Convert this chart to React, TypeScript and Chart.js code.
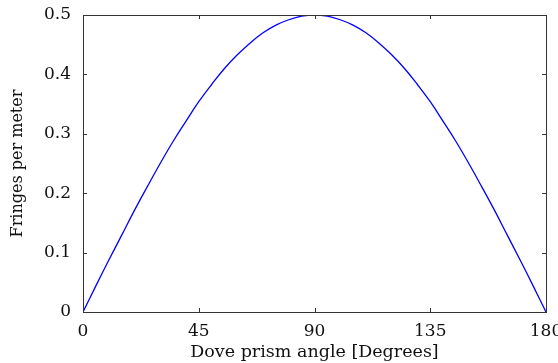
import React, { useEffect, useRef } from "react";
import { Chart, registerables } from "chart.js";

Chart.register(...registerables);

const angles = [0, 5, 10, 15, 20, 25, 30, 35, 40, 45, 50, 55, 60, 65, 70, 75, 80, 85, 90,
  95, 100, 105, 110, 115, 120, 125, 130, 135, 140, 145, 150, 155, 160, 165, 170, 175, 180];
const fringes = [0, 0.044, 0.087, 0.129, 0.171, 0.211, 0.25, 0.287, 0.321, 0.354, 0.383, 0.41, 0.433, 0.453, 0.47, 0.483, 0.492, 0.498, 0.5,
  0.498, 0.492, 0.483, 0.47, 0.453, 0.433, 0.41, 0.383, 0.354, 0.321, 0.287, 0.25, 0.211, 0.171, 0.129, 0.087, 0.044, 0];
const xTicks = [0, 45, 90, 135, 180];
const yTicks = [0, 0.1, 0.2, 0.3, 0.4, 0.5];

const FONT = "'DejaVu Serif', 'Liberation Serif', serif";

const frame = {
  id: "frame",
  afterDatasetsDraw(chart: any) {
    const { ctx, chartArea: a, scales } = chart;
    ctx.save();
    ctx.strokeStyle = "#333";
    ctx.lineWidth = 1;
    ctx.strokeRect(a.left + 0.5, a.top + 0.5, a.right - a.left, a.bottom - a.top);
    const L = 4;
    ctx.beginPath();
    xTicks.forEach((v) => {
      const x = Math.round(scales.x.getPixelForValue(v)) + 0.5;
      ctx.moveTo(x, a.bottom); ctx.lineTo(x, a.bottom - L);
      ctx.moveTo(x, a.top); ctx.lineTo(x, a.top + L);
    });
    yTicks.forEach((v) => {
      const y = Math.round(scales.y.getPixelForValue(v)) + 0.5;
      ctx.moveTo(a.left, y); ctx.lineTo(a.left + L, y);
      ctx.moveTo(a.right, y); ctx.lineTo(a.right - L, y);
    });
    ctx.stroke();
    ctx.restore();
  },
};

export default function App() {
  const ref = useRef<HTMLCanvasElement>(null);
  useEffect(() => {
    const chart = new Chart(ref.current!, {
      type: "line",
      data: {
        datasets: [{
          data: angles.map((x, i) => ({ x, y: fringes[i] })),
          borderColor: "#0000ff",
          borderWidth: 1.3,
          pointRadius: 0,
          tension: 0.4,
          fill: false,
        }],
      },
      options: {
        animation: false,
        responsive: false,
        plugins: { legend: { display: false }, tooltip: { enabled: false } },
        layout: { padding: { top: 15, right: 12, left: 8, bottom: 0 } },
        scales: {
          x: {
            type: "linear", min: 0, max: 180,
            afterBuildTicks: (s: any) => { s.ticks = xTicks.map((v) => ({ value: v })); },
            afterFit: (s: any) => { s.paddingLeft = 0; s.paddingRight = 0; s.height = 51; },
            grid: { display: false, drawTicks: false },
            border: { display: false },
            ticks: { color: "#111", font: { family: FONT, size: 17 }, padding: 9, maxRotation: 0, autoSkip: false },
            title: { display: true, text: "Dove prism angle [Degrees]", color: "#111", font: { family: FONT, size: 17.5 }, padding: { top: 0, bottom: 0 } },
          },
          y: {
            type: "linear", min: 0, max: 0.5,
            afterBuildTicks: (s: any) => { s.ticks = yTicks.map((v) => ({ value: v })); },
            afterFit: (s: any) => { s.paddingTop = 0; s.paddingBottom = 0; s.width = 75; },
            grid: { display: false, drawTicks: false },
            border: { display: false },
            ticks: { color: "#111", font: { family: FONT, size: 17 }, padding: 12, callback: (v: any) => String(v) },
            title: { display: true, text: "Fringes per meter", color: "#111", font: { family: FONT, size: 16 }, padding: { top: 0, bottom: 0 } },
          },
        },
      },
      plugins: [frame],
    });
    return () => chart.destroy();
  }, []);
  return (
    <div style={{ position: "fixed", left: 0, top: 0, width: 558, height: 363, background: "#fff" }}>
      <canvas ref={ref} width={558} height={363} />
    </div>
  );
}
